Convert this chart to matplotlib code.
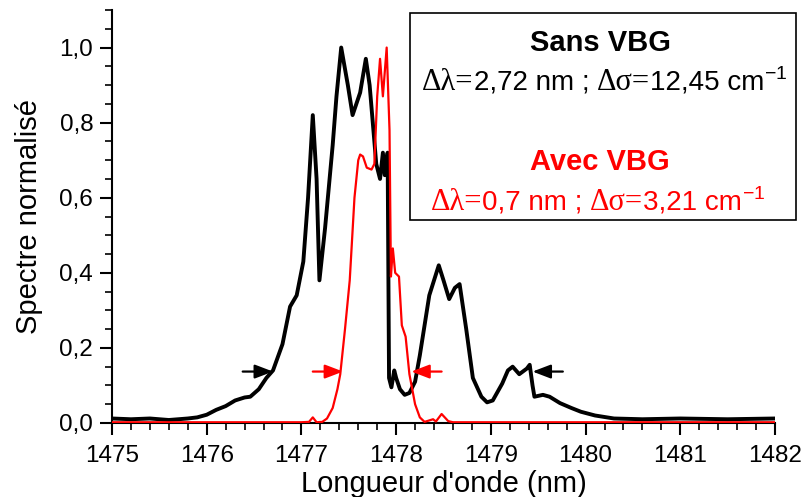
import matplotlib
matplotlib.use("Agg")
import matplotlib.pyplot as plt
from matplotlib.offsetbox import TextArea, HPacker, AnnotationBbox
from matplotlib.patches import Rectangle

# ---------------- data ----------------
black_wl = [1475.0, 1475.2, 1475.4, 1475.6, 1475.8, 1475.9, 1476.0, 1476.1, 1476.2, 1476.3,
            1476.4, 1476.46, 1476.55, 1476.63, 1476.7, 1476.8, 1476.88, 1476.95, 1477.02, 1477.07,
            1477.12, 1477.16, 1477.19, 1477.25, 1477.33, 1477.37, 1477.42, 1477.49, 1477.54, 1477.62,
            1477.68, 1477.72, 1477.79, 1477.83, 1477.86, 1477.88, 1477.91, 1477.925, 1477.95, 1477.98,
            1478.0, 1478.04, 1478.09, 1478.14, 1478.2, 1478.25, 1478.35, 1478.45, 1478.5, 1478.56,
            1478.62, 1478.67, 1478.74, 1478.81, 1478.9, 1478.96, 1479.02, 1479.12, 1479.18, 1479.23,
            1479.3, 1479.38, 1479.41, 1479.44, 1479.46, 1479.55, 1479.62, 1479.73, 1479.85, 1479.95,
            1480.1, 1480.3, 1480.6, 1481.0, 1481.5, 1482.0]
black_val = [0.012, 0.010, 0.012, 0.008, 0.012, 0.015, 0.022, 0.035, 0.045, 0.060,
             0.068, 0.070, 0.090, 0.120, 0.140, 0.210, 0.310, 0.340, 0.430, 0.600,
             0.820, 0.650, 0.380, 0.520, 0.740, 0.870, 1.000, 0.900, 0.820, 0.880,
             0.970, 0.900, 0.690, 0.650, 0.720, 0.660, 0.720, 0.120, 0.095, 0.140,
             0.120, 0.090, 0.075, 0.080, 0.110, 0.180, 0.340, 0.420, 0.380, 0.330,
             0.360, 0.370, 0.250, 0.120, 0.070, 0.055, 0.060, 0.105, 0.140, 0.150,
             0.130, 0.145, 0.155, 0.100, 0.070, 0.075, 0.070, 0.053, 0.040, 0.030,
             0.020, 0.012, 0.010, 0.012, 0.010, 0.012]

red_wl = [1475.0, 1477.0, 1477.08, 1477.12, 1477.16, 1477.22, 1477.27, 1477.33, 1477.38, 1477.41,
          1477.46, 1477.51, 1477.56, 1477.6, 1477.62, 1477.65, 1477.69, 1477.74, 1477.77, 1477.8,
          1477.83, 1477.86, 1477.9, 1477.93, 1477.945, 1477.965, 1477.99, 1478.03, 1478.06, 1478.1,
          1478.14, 1478.2, 1478.25, 1478.3, 1478.39, 1478.42, 1478.48, 1478.55, 1478.6, 1482.0]
red_val = [0.002, 0.002, 0.003, 0.015, 0.002, 0.003, 0.012, 0.040, 0.090, 0.130,
           0.250, 0.380, 0.600, 0.700, 0.715, 0.710, 0.680, 0.675, 0.690, 0.870,
           0.970, 0.870, 1.000, 0.780, 0.390, 0.465, 0.400, 0.390, 0.260, 0.230,
           0.130, 0.050, 0.015, 0.003, 0.010, 0.004, 0.024, 0.005, 0.002, 0.002]

# FWHM arrows: (tail, head) wavelengths at a given level
black_arrows = [(1476.38, 1476.70), (1479.76, 1479.44)]
red_arrows = [(1477.12, 1477.44), (1478.48, 1478.16)]
arrow_level = 0.137

xticks = [1475, 1476, 1477, 1478, 1479, 1480, 1481, 1482]
yticks = [0.0, 0.2, 0.4, 0.6, 0.8, 1.0]
ytick_labels = ["0,0", "0,2", "0,4", "0,6", "0,8", "1,0"]

# ---------------- figure ----------------
plt.rcParams['font.family'] = ['Liberation Sans', 'DejaVu Sans']
fig = plt.figure(figsize=(8.04, 4.97), dpi=100)
ax = fig.add_axes([112/804, (497-423)/497, (775-112)/804, (423-10)/497])

ax.plot(black_wl, black_val, color='black', lw=2.8, zorder=2)
ax.plot(red_wl, red_val, color='#ff0000', lw=1.6, zorder=3)

for tail, head in black_arrows:
    ax.annotate('', xy=(head, arrow_level), xytext=(tail, arrow_level),
                arrowprops=dict(arrowstyle='-|>,head_length=1.1,head_width=0.42',
                                color='black', lw=1.6, shrinkA=0, shrinkB=0), zorder=4)
for tail, head in red_arrows:
    ax.annotate('', xy=(head, arrow_level), xytext=(tail, arrow_level),
                arrowprops=dict(arrowstyle='-|>,head_length=1.1,head_width=0.42',
                                color='#ff0000', lw=1.6, shrinkA=0, shrinkB=0), zorder=4)

ax.set_xlim(1475, 1482)
ax.set_ylim(0, 1.1)
ax.set_xticks(xticks)
ax.set_xticklabels([str(t) for t in xticks])
ax.set_yticks(yticks)
ax.set_yticklabels(ytick_labels)
ax.set_xticks([1475 + 0.2 * i for i in range(36)], minor=True)
ax.set_yticks([0.05 * i for i in range(23)], minor=True)
for s in ['top', 'right']:
    ax.spines[s].set_visible(False)
for s in ['left', 'bottom']:
    ax.spines[s].set_linewidth(1.5)
ax.tick_params(which='major', direction='out', length=8.5, width=1.5, labelsize=17.5, pad=5)
ax.tick_params(axis='x', which='major', pad=7.5)
ax.tick_params(which='minor', direction='out', length=5, width=1.2)
ax.set_xlabel("Longueur d'onde (nm)", fontsize=21, labelpad=2)
ax.set_ylabel("Spectre normalisé", fontsize=21, labelpad=12)

# ---------------- annotation box ----------------
box = Rectangle((410/804, (497-220)/497), (796-410)/804, (220-13)/497,
                transform=fig.transFigure, fill=False, edgecolor='black', lw=1.2)
fig.patches.append(box)

cx = 600/804
fig.text(cx, 1-43/497, "Sans VBG", ha='center', va='center', fontsize=21, fontweight='bold', color='black')
fig.text(cx, 1-162/497, "Avec VBG", ha='center', va='center', fontsize=21, fontweight='bold', color='#ff0000')

def line(parts, color, x, y):
    children = []
    for txt, fam, size in parts:
        children.append(TextArea(txt, textprops=dict(family=fam, fontsize=size, color=color)))
    pack = HPacker(children=children, align='baseline', pad=0, sep=0)
    ab = AnnotationBbox(pack, (x, y), xycoords='figure fraction', frameon=False,
                        box_alignment=(0.5, 0.5), pad=0)
    fig.add_artist(ab)

serif = 'Liberation Serif'
sans = 'Liberation Sans'
line([("Δλ=", serif, 22), ("2,72 nm ; ", sans, 20), ("Δσ=", serif, 22), ("12,45 cm", sans, 20),
      ("$^{\\mathregular{-1}}$", sans, 20)], 'black', 605/804, 1-82/497)
line([("Δλ=", serif, 22), ("0,7 nm ; ", sans, 20), ("Δσ=", serif, 22), ("3,21 cm", sans, 20),
      ("$^{\\mathregular{-1}}$", sans, 20)], '#ff0000', 598/804, 1-202/497)

fig.savefig('out.png', dpi=100)
